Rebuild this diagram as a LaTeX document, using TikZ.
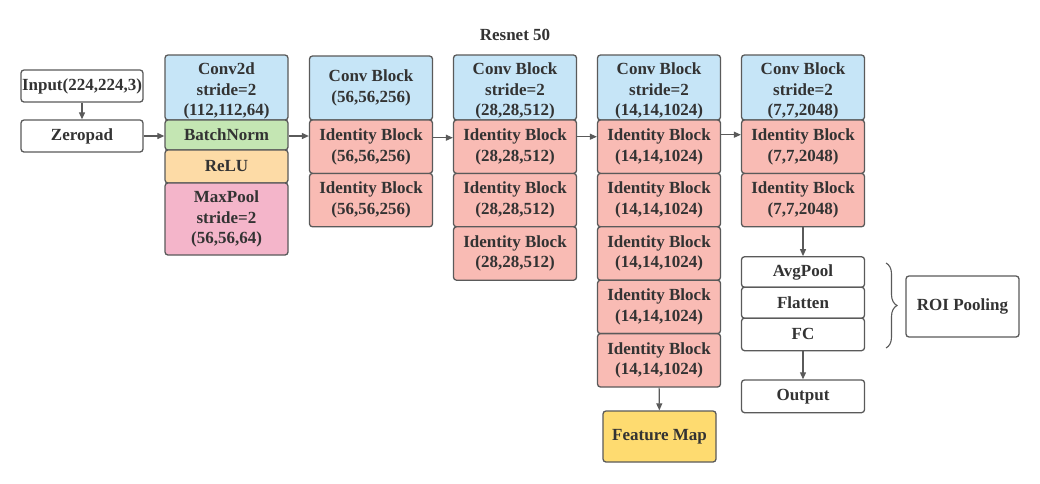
\documentclass[tikz,border=0pt]{standalone}
\usepackage{fontspec}
\setmainfont{Liberation Serif}
\usetikzlibrary{arrows.meta,decorations.pathreplacing}
\definecolor{edge}{HTML}{5A5A5A}
\definecolor{txt}{HTML}{333333}
\definecolor{cblue}{HTML}{C6E5F7}
\definecolor{cgreen}{HTML}{C4E6B3}
\definecolor{corange}{HTML}{FDDBA6}
\definecolor{cpink}{HTML}{F4B5CA}
\definecolor{csalmon}{HTML}{F9BBB4}
\definecolor{cyellow}{HTML}{FEDB70}
\newcommand{\threeline}[3]{\raisebox{-3.5pt}[\height][\depth]{\begin{tabular}{@{}c@{}}#1\\#2\\#3\end{tabular}}}
\tikzset{
  blk/.style={draw=edge, line width=1.3pt, rounded corners=3pt, inner sep=0pt,
    align=center, text=txt, minimum width=123pt,
    font=\bfseries\fontsize{17}{20.5}\selectfont},
  arr/.style={draw=edge, line width=1.1pt, -{Triangle[length=7pt,width=6pt]}},
}
\begin{document}
\begin{tikzpicture}[x=1pt,y=-1pt]
\useasboundingbox (0,0) rectangle (1040,483);
\fill[white] (0,0) rectangle (1040,483);

\node[font=\bfseries\fontsize{17}{20}\selectfont, text=txt] (title) at (515,35) {Resnet 50};

% column 1
\node[blk, minimum width=122pt, minimum height=32pt] (inp) at (82,86) {Input(224,224,3)};
\node[blk, minimum width=122pt, minimum height=32pt] (zp) at (82,136) {Zeropad};

% column 2
\node[blk, fill=cblue, minimum height=65pt] (c2conv) at (226.5,87.5) {\threeline{Conv2d}{stride=2}{(112,112,64)}};
\node[blk, fill=cgreen, minimum height=30pt] (c2bn) at (226.5,135) {BatchNorm};
\node[blk, fill=corange, minimum height=33pt] (c2relu) at (226.5,166.5) {ReLU};
\node[blk, fill=cpink, minimum height=72pt] (c2mp) at (226.5,219) {MaxPool\\stride=2\\(56,56,64)};

% column 3
\node[blk, fill=cblue, minimum height=64pt] (c3conv) at (371,88) {Conv Block\\(56,56,256)};
\node[blk, fill=csalmon, minimum height=53.4pt] (c3i1) at (371,146.7) {Identity Block\\(56,56,256)};
\node[blk, fill=csalmon, minimum height=53.4pt] (c3i2) at (371,200.1) {Identity Block\\(56,56,256)};

% column 4
\node[blk, fill=cblue, minimum height=65pt] (c4conv) at (515,87.5) {\threeline{Conv Block}{stride=2}{(28,28,512)}};
\node[blk, fill=csalmon, minimum height=53.4pt] (c4i1) at (515,146.7) {Identity Block\\(28,28,512)};
\node[blk, fill=csalmon, minimum height=53.4pt] (c4i2) at (515,200.1) {Identity Block\\(28,28,512)};
\node[blk, fill=csalmon, minimum height=53.4pt] (c4i3) at (515,253.5) {Identity Block\\(28,28,512)};

% column 5
\node[blk, fill=cblue, minimum height=65pt] (c5conv) at (659,87.5) {\threeline{Conv Block}{stride=2}{(14,14,1024)}};
\node[blk, fill=csalmon, minimum height=53.4pt] (c5i1) at (659,146.7) {Identity Block\\(14,14,1024)};
\node[blk, fill=csalmon, minimum height=53.4pt] (c5i2) at (659,200.1) {Identity Block\\(14,14,1024)};
\node[blk, fill=csalmon, minimum height=53.4pt] (c5i3) at (659,253.5) {Identity Block\\(14,14,1024)};
\node[blk, fill=csalmon, minimum height=53.4pt] (c5i4) at (659,306.9) {Identity Block\\(14,14,1024)};
\node[blk, fill=csalmon, minimum height=53.4pt] (c5i5) at (659,360.3) {Identity Block\\(14,14,1024)};
\node[blk, fill=cyellow, minimum width=113pt, minimum height=51pt] (fmap) at (659.5,436.5) {Feature Map};

% column 6
\node[blk, fill=cblue, minimum height=65pt] (c6conv) at (803,87.5) {\threeline{Conv Block}{stride=2}{(7,7,2048)}};
\node[blk, fill=csalmon, minimum height=53.4pt] (c6i1) at (803,146.7) {Identity Block\\(7,7,2048)};
\node[blk, fill=csalmon, minimum height=53.4pt] (c6i2) at (803,200.1) {Identity Block\\(7,7,2048)};
\node[blk, minimum height=30.5pt] (avg) at (803,272) {AvgPool};
\node[blk, minimum height=31pt] (flat) at (803,302.7) {Flatten};
\node[blk, minimum height=32.5pt] (fc) at (803,334.4) {FC};
\node[blk, minimum height=32.7pt] (outp) at (803,396.3) {Output};

% ROI
\node[blk, minimum width=113pt, minimum height=61pt] (roi) at (962.5,306.5) {ROI Pooling};
\coordinate (brtop) at (886,263);
\coordinate (brbot) at (886,348);
\draw[edge, line width=1.1pt, decorate, decoration={brace, amplitude=11pt, aspect=0.5}] (brtop) -- (brbot);

% connectors
\draw[arr] (inp) -- (zp);
\draw[arr] (zp.east) -- (c2bn.west |- zp.east);
\draw[arr] ([yshift=-1pt]c2bn.east) -- ([yshift=-1pt]c2bn.east -| c3i1.west);
\draw[arr] ([yshift=9pt]c3i1.east) -- ([yshift=9pt]c4i1.west);
\draw[arr] ([yshift=10pt]c4i1.east) -- ([yshift=10pt]c5i1.west);
\draw[arr] ([yshift=12pt]c5i1.east) -- ([yshift=12pt]c6i1.west);
\draw[arr] (c5i5) -- (fmap);
\draw[arr] (c6i2) -- (avg);
\draw[arr] (fc) -- (outp);
\end{tikzpicture}
\end{document}
